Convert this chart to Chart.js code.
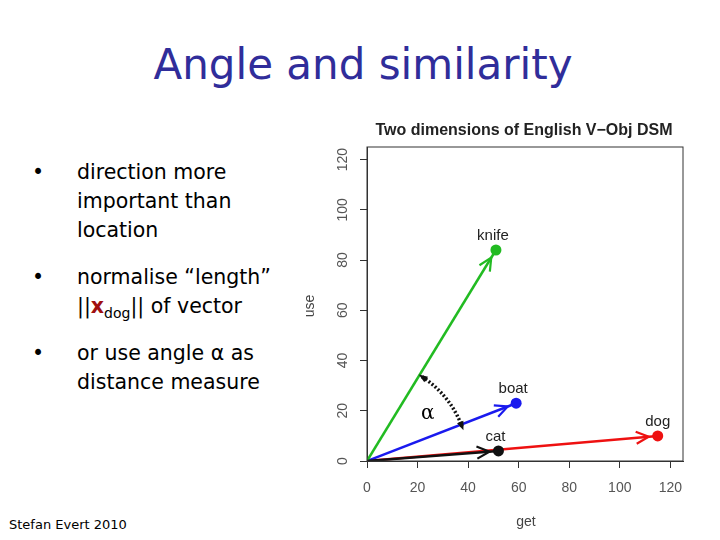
<!DOCTYPE html>
<html><head><meta charset="utf-8">
<script src="https://cdn.jsdelivr.net/npm/chart.js@4"></script>
<style>
body{margin:0;width:720px;height:540px;background:#fff;position:relative;overflow:hidden;font-family:"DejaVu Sans",Verdana,sans-serif;}
#title{position:absolute;left:0;width:726px;top:40px;text-align:center;font-size:42px;color:#302d9a;letter-spacing:0px;}
.b{position:absolute;left:32px;font-size:20.5px;line-height:29px;color:#000;}
.b span.d{position:absolute;left:0;}
.b div{margin-left:45px;}
#foot{position:absolute;left:9px;top:517px;font-size:13px;}
#wrap{position:absolute;left:300px;top:112px;width:400px;height:420px;}
</style></head><body>
<div id="title">Angle and similarity</div>
<div class="b" style="top:158px"><span class="d">•</span><div>direction more<br>important than<br>location</div></div>
<div class="b" style="top:263px"><span class="d">•</span><div>normalise “length”<br>||<b style="color:#a01010">x</b><sub style="font-size:14px">dog</sub>|| of vector</div></div>
<div class="b" style="top:339px"><span class="d">•</span><div>or use angle α as<br>distance measure</div></div>
<div id="foot">Stefan Evert 2010</div>
<div id="wrap"><canvas id="c" width="400" height="420"></canvas></div>
<script>
const words = ["cat","knife","boat","dog"];
const getVals = [52, 51, 59, 115];
const useVals = [4, 84, 23, 10];
const colors = ["#111111","#22bb22","#1a1aee","#ee1111"];
const xTicks = [0,20,40,60,80,100,120];
const yTicks = [0,20,40,60,80,100,120];
const alphaArc = {r0:40, a0:57, a1:20, labelX:24, labelY:19};

const datasets = words.map((w,i)=>({
  label:w, data:[{x:0,y:0},{x:getVals[i],y:useVals[i]}],
  borderColor:colors[i], borderWidth:2.5, showLine:true,
  pointRadius:[0,5.5], pointBackgroundColor:colors[i], pointBorderWidth:0
}));

function head(ctx,x,y,ang,col){
  ctx.save();ctx.strokeStyle=col;ctx.lineWidth=2.2;ctx.beginPath();
  const L=14;
  ctx.moveTo(x-L*Math.cos(ang-0.45),y-L*Math.sin(ang-0.45));ctx.lineTo(x,y);
  ctx.lineTo(x-L*Math.cos(ang+0.45),y-L*Math.sin(ang+0.45));ctx.stroke();ctx.restore();
}
const deco={id:'deco',afterDatasetsDraw(ch){
  const ctx=ch.ctx,xs=ch.scales.x,ys=ch.scales.y,a=ch.chartArea;
  ctx.save();
  ctx.strokeStyle='#333';ctx.lineWidth=1;ctx.strokeRect(a.left,a.top,a.right-a.left,a.bottom-a.top);
  const ox=xs.getPixelForValue(0),oy=ys.getPixelForValue(0);
  words.forEach((w,i)=>{
    const px=xs.getPixelForValue(getVals[i]),py=ys.getPixelForValue(useVals[i]);
    const ang=Math.atan2(py-oy,px-ox);
    head(ctx,px-9*Math.cos(ang),py-9*Math.sin(ang),ang,colors[i]);
    ctx.fillStyle='#222';ctx.font='15px "Liberation Sans",Arial';ctx.textAlign='center';
    ctx.fillText(w,px-(w==='dog'?0:3),py-10);
  });
  const sx=xs.getPixelForValue(1)-ox, sy=oy-ys.getPixelForValue(1);
  const pts=[];
  for(let t=alphaArc.a0;t>=alphaArc.a1;t-=1){
    const r=t*Math.PI/180;pts.push([ox+alphaArc.r0*Math.cos(r)*sx,oy-alphaArc.r0*Math.sin(r)*sy]);
  }
  ctx.strokeStyle='#111';ctx.lineWidth=3.5;ctx.setLineDash([2,2]);ctx.beginPath();
  pts.forEach((p,k)=>k?ctx.lineTo(p[0],p[1]):ctx.moveTo(p[0],p[1]));ctx.stroke();ctx.setLineDash([]);
  const fill=(p,q)=>{const ang=Math.atan2(p[1]-q[1],p[0]-q[0]);ctx.fillStyle='#111';ctx.beginPath();
    ctx.moveTo(p[0]+4*Math.cos(ang),p[1]+4*Math.sin(ang));
    ctx.lineTo(p[0]-6*Math.cos(ang-0.6),p[1]-6*Math.sin(ang-0.6));
    ctx.lineTo(p[0]-6*Math.cos(ang+0.6),p[1]-6*Math.sin(ang+0.6));ctx.fill();};
  fill(pts[0],pts[2]);fill(pts[pts.length-1],pts[pts.length-3]);
  ctx.fillStyle='#000';ctx.font='20px "DejaVu Serif",serif';ctx.textAlign='center';
  ctx.fillText('α',xs.getPixelForValue(alphaArc.labelX),ys.getPixelForValue(alphaArc.labelY)+6);
  ctx.fillStyle='#555';ctx.font='14px "Liberation Sans",Arial';
  xTicks.forEach(v=>{ctx.textAlign='center';ctx.fillText(v,xs.getPixelForValue(v),a.bottom+31);});
  yTicks.forEach(v=>{ctx.save();ctx.translate(a.left-20,ys.getPixelForValue(v));ctx.rotate(-Math.PI/2);
    ctx.textAlign='center';ctx.fillText(v,0,0);ctx.restore();});
  ctx.font='14px "Liberation Sans",Arial';ctx.fillStyle='#444';
  ctx.fillText('get',(a.left+a.right)/2+1,a.bottom+65);
  ctx.save();ctx.translate(14,(a.top+a.bottom)/2+2);ctx.rotate(-Math.PI/2);ctx.textAlign='center';ctx.fillText('use',0,0);ctx.restore();
  ctx.fillStyle='#222';ctx.font='bold 16px "Liberation Sans",Arial';ctx.textAlign='center';
  ctx.fillText('Two dimensions of English V\u2212Obj DSM',224,23);
  ctx.restore();
}};
new Chart(document.getElementById('c'),{type:'scatter',data:{datasets},
  options:{responsive:false,animation:false,
    layout:{padding:{left:0,right:17,top:35,bottom:0}},
    plugins:{legend:{display:false},tooltip:{enabled:false}},
    scales:{
      x:{min:0,max:125,afterFit:s=>{s.height=71;},
        afterBuildTicks:s=>{s.ticks=xTicks.map(v=>({value:v}));},
        ticks:{callback:()=>''},grid:{drawOnChartArea:false,tickLength:7,color:'#333'},border:{color:'#333'}},
      y:{min:0,max:125,afterFit:s=>{s.width=67;},
        afterBuildTicks:s=>{s.ticks=yTicks.map(v=>({value:v}));},
        ticks:{callback:()=>''},grid:{drawOnChartArea:false,tickLength:7,color:'#333'},border:{color:'#333'}}
    }},plugins:[deco]});
</script></body></html>
